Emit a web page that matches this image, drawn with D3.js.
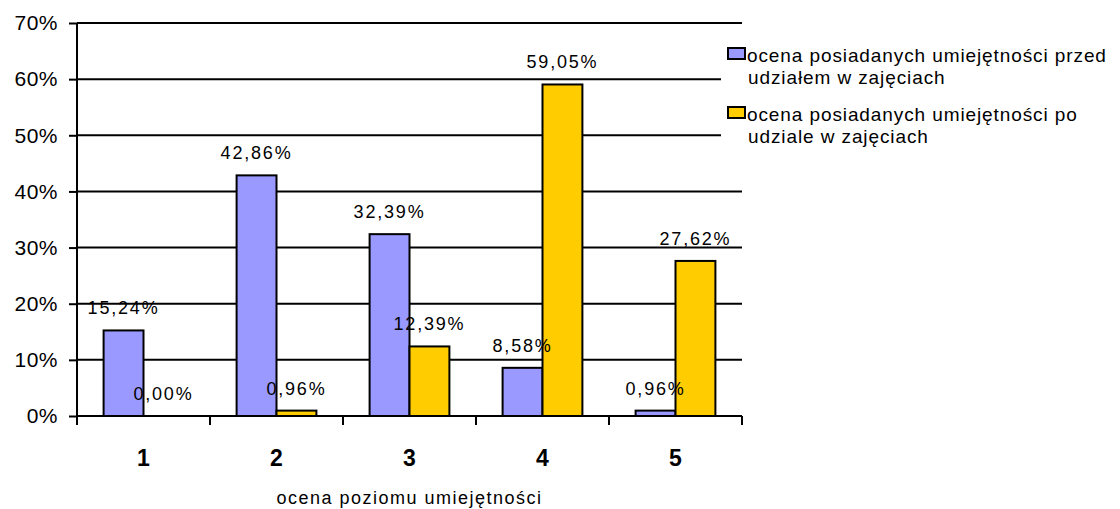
<!DOCTYPE html>
<html>
<head>
<meta charset="utf-8">
<script src="https://cdn.jsdelivr.net/npm/d3@7/dist/d3.min.js"></script>
<style>
  html, body { margin: 0; padding: 0; background: #fff; }
  text { font-family: "Liberation Sans", Arial, sans-serif; fill: #000; }
</style>
</head>
<body>
<div id="chart"></div>
<script>
// chart data
const categories = ['1', '2', '3', '4', '5'];
const seriesNames = [
  ['ocena posiadanych umiejętności przed', 'udziałem w zajęciach'],
  ['ocena posiadanych umiejętności po', 'udziale w zajęciach']
];
const before = [15.24, 42.86, 32.39, 8.58, 0.96];
const after = [0.00, 0.96, 12.39, 59.05, 27.62];
const yTicks = [0, 10, 20, 30, 40, 50, 60, 70];
const colors = ['#9999FF', '#FFCC00'];
const xTitle = 'ocena poziomu umiejętności';

const width = 1120, height = 509;
const margin = {top: 23, right: 378, bottom: 93, left: 77};

const svg = d3.select('#chart')
  .append('svg')
  .attr('width', width)
  .attr('height', height);

const x = d3.scaleBand()
  .domain(categories)
  .range([margin.left, width - margin.right])
  .padding(0);

const inner = d3.scaleBand()
  .domain([0, 1])
  .range([x.bandwidth() * 0.2, x.bandwidth() * 0.8]);

const y = d3.scaleLinear()
  .domain([0, 70])
  .range([height - margin.bottom, margin.top]);

const fmt = v => v.toFixed(2).replace('.', ',') + '%';

// grid lines
svg.append('g')
  .selectAll('line')
  .data(yTicks.filter(d => d > 0))
  .enter()
  .append('line')
  .attr('x1', margin.left)
  .attr('x2', width - margin.right)
  .attr('y1', d => y(d))
  .attr('y2', d => y(d))
  .attr('stroke', '#000')
  .attr('stroke-width', 2);

// bars
const rows = [];
categories.forEach((c, i) => {
  rows.push({cat: c, s: 0, v: before[i]});
  rows.push({cat: c, s: 1, v: after[i]});
});

svg.append('g')
  .selectAll('rect')
  .data(rows.filter(d => d.v > 0))
  .enter()
  .append('rect')
  .attr('x', d => x(d.cat) + inner(d.s))
  .attr('y', d => y(d.v))
  .attr('width', inner.bandwidth())
  .attr('height', d => y(0) - y(d.v))
  .attr('fill', d => colors[d.s])
  .attr('stroke', '#000')
  .attr('stroke-width', 2);

// y axis
const yAxis = svg.append('g')
  .attr('transform', `translate(${margin.left},0)`)
  .call(d3.axisLeft(y).tickValues(yTicks).tickSize(8).tickPadding(11).tickFormat(d => d + '%'));
yAxis.select('.domain').attr('stroke-width', 2).attr('d', `M0,${y(70)}V${y(0) + 9}`);
yAxis.selectAll('.tick line').attr('stroke-width', 2);
yAxis.selectAll('.tick text')
  .attr('font-size', 21)
  .attr('letter-spacing', 0.5)
  .attr('font-family', '"Liberation Sans", Arial, sans-serif');

// x axis
const xAxis = svg.append('g')
  .attr('transform', `translate(0,${y(0)})`);
xAxis.append('line')
  .attr('x1', margin.left)
  .attr('x2', width - margin.right)
  .attr('stroke', '#000')
  .attr('stroke-width', 2);
xAxis.selectAll('.tk')
  .data(categories.map(c => x(c)).concat([x(categories[categories.length - 1]) + x.bandwidth()]))
  .enter()
  .append('line')
  .attr('x1', d => d)
  .attr('x2', d => d)
  .attr('y1', 0)
  .attr('y2', 9)
  .attr('stroke', '#000')
  .attr('stroke-width', 2);
xAxis.selectAll('text')
  .data(categories)
  .enter()
  .append('text')
  .attr('x', d => x(d) + x.bandwidth() / 2)
  .attr('y', 50)
  .attr('text-anchor', 'middle')
  .attr('font-size', 23)
  .attr('font-weight', 'bold')
  .text(d => d);

svg.append('text')
  .attr('x', (margin.left + width - margin.right) / 2)
  .attr('y', 504)
  .attr('text-anchor', 'middle')
  .attr('font-size', 18)
  .attr('letter-spacing', 1.5)
  .text(xTitle);

// value labels
svg.append('g')
  .selectAll('text')
  .data(rows)
  .enter()
  .append('text')
  .attr('x', d => x(d.cat) + inner(d.s) + inner.bandwidth() / 2)
  .attr('y', d => y(d.v) - 16)
  .attr('text-anchor', 'middle')
  .attr('font-size', 18)
  .attr('letter-spacing', 1.8)
  .text(d => fmt(d.v));

// legend
const legend = svg.append('g').attr('transform', 'translate(721,0)');
legend.append('rect')
  .attr('x', 0).attr('y', 45)
  .attr('width', width - 721).attr('height', 125)
  .attr('fill', '#fff');
seriesNames.forEach((lines, i) => {
  const top = 48 + i * 59;
  legend.append('rect')
    .attr('x', 7).attr('y', top)
    .attr('width', 17).attr('height', 11)
    .attr('fill', colors[i])
    .attr('stroke', '#000')
    .attr('stroke-width', 2);
  lines.forEach((t, j) => {
    legend.append('text')
      .attr('x', j === 0 ? 26 : 27)
      .attr('y', top + 14 + j * 22)
      .attr('font-size', 19)
      .attr('letter-spacing', 0.9)
      .text(t);
  });
});
</script>
</body>
</html>
